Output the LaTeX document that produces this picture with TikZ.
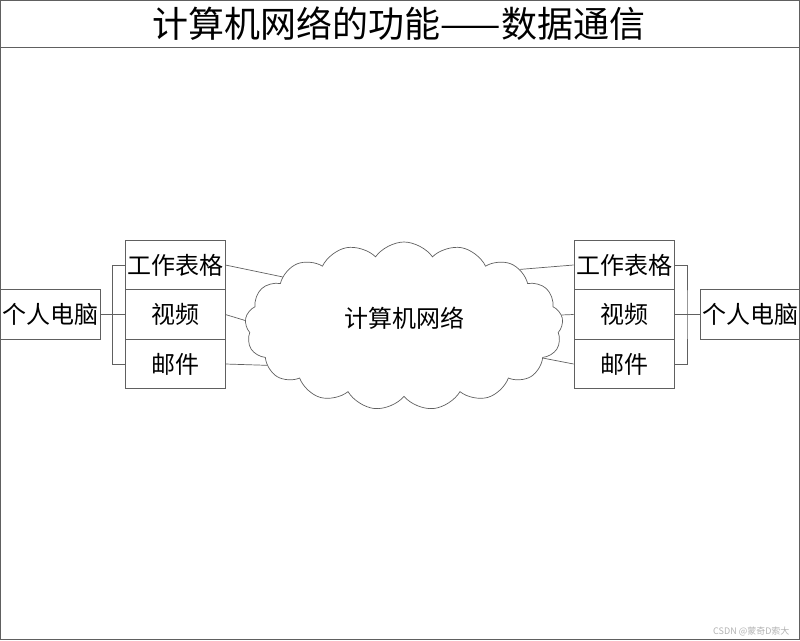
\documentclass[tikz,border=0pt]{standalone}
\usepackage{fontspec}
\setmainfont{Liberation Sans}
\newfontfamily\cjk{Noto Sans CJK SC}
\usetikzlibrary{shapes.symbols,positioning}
\definecolor{linegray}{HTML}{606060}

\tikzset{
  appbox/.style={draw=linegray, line width=0.8pt, minimum width=100pt, minimum height=49.5pt, inner sep=0pt, font=\cjk\fontsize{24}{24}\selectfont},
  pcbox/.style={appbox},
  link/.style={draw=linegray, line width=0.7pt}
}

\begin{document}
\begin{tikzpicture}[x=1pt,y=-1pt]
\useasboundingbox (0,0) rectangle (800,640);
\draw [linegray, line width=1pt] (0.5,0.5) rectangle (799.5,639.5);
\draw [linegray, line width=0.8pt] (0,47) -- (800,47);
\node[font=\cjk\fontsize{36}{36}\selectfont] (title) at (399,24) {计算机网络的功能——数据通信};
% applications on both sides
\foreach \t [count=\i] in {工作表格,视频,邮件} {
    \node[appbox] (la\i) at (175,215.5+49.5*\i) {\t};
    \node[appbox] (ra\i) at (624,215.5+49.5*\i) {\t};
}
\node[pcbox] (lpc) at (50,314.5) {个人电脑};
\node[pcbox] (rpc) at (750,314.5) {个人电脑};
\node[cloud, draw=linegray, line width=0.7pt, cloud puffs=17, cloud puff arc=110, aspect=1.9, minimum width=318pt, minimum height=168pt, inner sep=0pt, font=\cjk\fontsize{24}{24}\selectfont] (net) at (404,326) {\raisebox{18pt}{计算机网络}};
% brackets
\coordinate (lbr) at (112.5,314.5);
\coordinate (rbr) at (687,314.5);
\draw [link] (lpc.east) -- (lbr);
\draw [link] (la1.west) -| (lbr) |- (la3.west);
\draw [link] (la2.west) -- (lbr);
\draw [link] (rpc.west) -- (rbr);
\draw [link] (ra1.east) -| (rbr) |- (ra3.east);
\draw [link] (ra2.east) -- (rbr);
% links to the network
\draw [link] (la1.east) -- (net.158);
\draw [link] (la2.east) -- (net.178);
\draw [link] (la3.east) -- (net.196);
\draw [link] (ra1.west) -- (net.26);
\draw [link] (ra2.west) -- (net.4);
\draw [link] (ra3.west) -- (net.-13);
\node[anchor=east, text=gray!60, font=\cjk\fontsize{9}{9}\selectfont] (mark) at (793,631) {CSDN @蒙奇D索大};
\end{tikzpicture}
\end{document}
